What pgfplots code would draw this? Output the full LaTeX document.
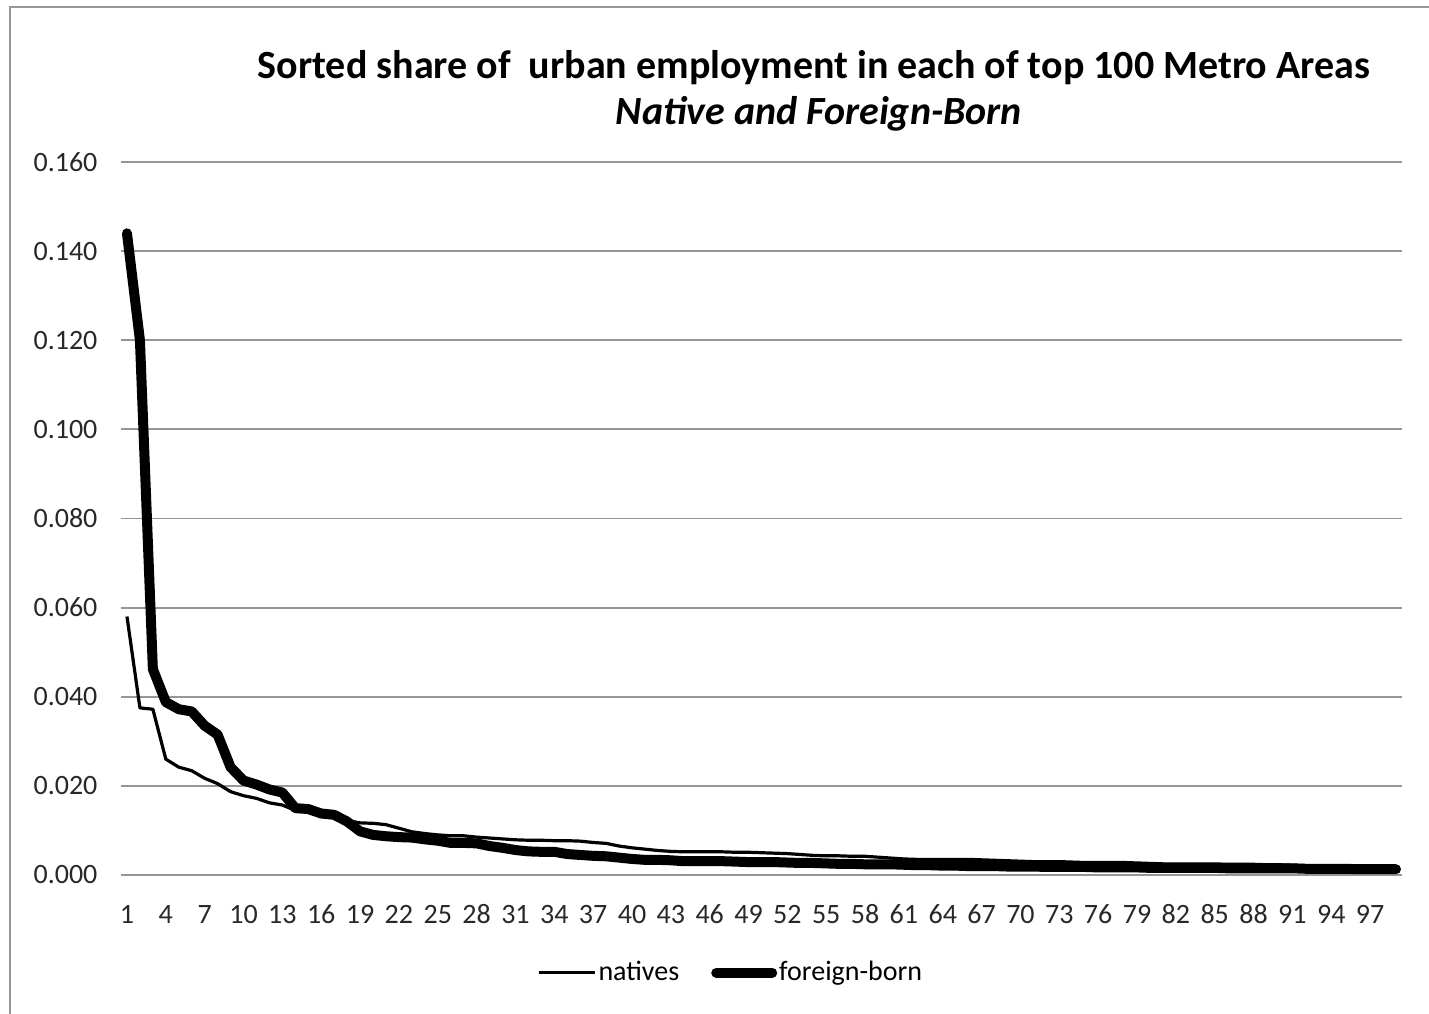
\documentclass[border=0pt]{standalone}
\usepackage{pgfplots}
\pgfplotsset{compat=1.18}
\usepackage{pgfplotstable}
\usepackage{fontspec}
\setmainfont{Carlito}
\pgfplotstableread{
x n f
1 0.0580 0.1440
2 0.0375 0.1200
3 0.0372 0.0462
4 0.0260 0.0388
5 0.0242 0.0372
6 0.0234 0.0367
7 0.0217 0.0335
8 0.0205 0.0315
9 0.0187 0.0242
10 0.0178 0.0212
11 0.0172 0.0203
12 0.0162 0.0192
13 0.0157 0.0185
14 0.0145 0.0150
15 0.0143 0.0148
16 0.0138 0.0138
17 0.0135 0.0135
18 0.0122 0.0120
19 0.0117 0.0098
20 0.0116 0.0090
21 0.0113 0.0087
22 0.0105 0.0085
23 0.0097 0.0084
24 0.0093 0.0080
25 0.0090 0.0077
26 0.0088 0.0072
27 0.0088 0.0072
28 0.0085 0.0071
29 0.0083 0.0065
30 0.0081 0.0061
31 0.0079 0.0056
32 0.0078 0.0053
33 0.0078 0.0052
34 0.0077 0.0052
35 0.0077 0.0047
36 0.0076 0.0045
37 0.0073 0.0043
38 0.0071 0.0042
39 0.0065 0.0039
40 0.0061 0.0036
41 0.0058 0.0034
42 0.0055 0.0034
43 0.0053 0.0033
44 0.0052 0.0031
45 0.0052 0.0031
46 0.0052 0.0031
47 0.0052 0.0031
48 0.0051 0.0030
49 0.0051 0.0029
50 0.0050 0.0029
51 0.0049 0.0029
52 0.0048 0.0028
53 0.0046 0.0027
54 0.0044 0.0027
55 0.0043 0.0026
56 0.0043 0.0025
57 0.0042 0.0025
58 0.0042 0.0024
59 0.0040 0.0024
60 0.0038 0.0024
61 0.0036 0.0023
62 0.0035 0.0022
63 0.0035 0.0022
64 0.0035 0.0021
65 0.0035 0.0021
66 0.0035 0.0020
67 0.0034 0.0020
68 0.0033 0.0020
69 0.0032 0.0019
70 0.0031 0.0019
71 0.0030 0.0019
72 0.0030 0.0018
73 0.0030 0.0018
74 0.0029 0.0018
75 0.0028 0.0018
76 0.0028 0.0017
77 0.0028 0.0017
78 0.0028 0.0017
79 0.0027 0.0017
80 0.0026 0.0016
81 0.0025 0.0016
82 0.0025 0.0016
83 0.0025 0.0016
84 0.0025 0.0016
85 0.0025 0.0016
86 0.0024 0.0015
87 0.0024 0.0015
88 0.0024 0.0015
89 0.0023 0.0015
90 0.0023 0.0015
91 0.0022 0.0015
92 0.0021 0.0014
93 0.0021 0.0014
94 0.0020 0.0014
95 0.0020 0.0014
96 0.0019 0.0013
97 0.0019 0.0013
98 0.0019 0.0013
99 0.0018 0.0013
}\datatable
\begin{document}
\begin{tikzpicture}
\useasboundingbox (0,0) rectangle (714.5pt,506.5pt);
\draw[color={rgb,255:red,150;green,150;blue,150}, line width=1pt] (5pt,-2pt) -- (5pt,503pt) -- (720pt,503pt);
\node[anchor=base, font=\fontsize{20}{23}\selectfont\bfseries] at (407pt,467pt) {Sorted share of\ \ urban employment in each of top 100 Metro Areas};
\node[anchor=base, font=\fontsize{20}{23}\selectfont\bfseries\itshape] at (409.5pt,444pt) {Native and Foreign-Born};
\begin{axis}[
  at={(60.25pt,69pt)}, anchor=south west,
  scale only axis, width=641pt, height=356.5pt,
  xmin=0.5, xmax=99.5, ymin=0, ymax=0.16,
  axis line style={draw=none},
  xtick={1,4,...,97}, ytick={0,0.02,...,0.16},
  major tick length=0pt,
  ymajorgrids, grid style={color={rgb,255:red,150;green,150;blue,150}, line width=0.9pt},
  scaled y ticks=false,
  /pgf/number format/assume math mode=true,
  yticklabel style={/pgf/number format/fixed, /pgf/number format/fixed zerofill, /pgf/number format/precision=3, xshift=-8pt},
  xticklabel style={anchor=base, yshift=-24pt},
  tick label style={font=\fontsize{14}{16}\selectfont, color={rgb,255:red,40;green,40;blue,40}},
  legend style={at={(0.476,-0.137)}, anchor=center, draw=none, font=\fontsize{14}{16}\selectfont, legend columns=2, /tikz/every even column/.append style={column sep=15pt}, nodes={inner sep=1pt}},
  legend image code/.code={\draw[#1] (0pt,0pt) -- (28pt,0pt);},
  clip=false,
]
\addplot[black, line width=1.6pt, line join=round] table[x=x, y=n] {\datatable};
\addlegendentry{natives}
\addplot[black, line width=5pt, line join=round, line cap=round] table[x=x, y=f] {\datatable};
\addlegendentry{foreign-born}
\end{axis}
\end{tikzpicture}
\end{document}
